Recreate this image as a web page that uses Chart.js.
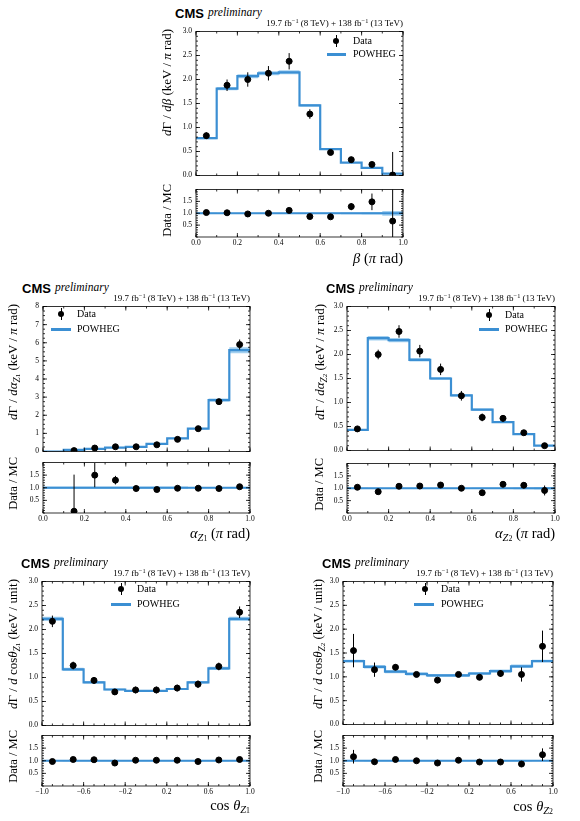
<!DOCTYPE html>
<html>
<head>
<meta charset="utf-8">
<script src="https://cdn.jsdelivr.net/npm/chart.js@4.4.0/dist/chart.umd.min.js"></script>
<style>
  body { margin: 0; background: #fff; }
  #page { position: relative; width: 580px; height: 821px; overflow: hidden; font-family: "Liberation Serif", serif; color: #000; }
  canvas { position: absolute; }
  .t { position: absolute; white-space: nowrap; line-height: 1; }
  .t sub { font-size: 72%; vertical-align: -0.3em; }
  .t sup { font-size: 70%; vertical-align: 0.45em; }
  .t small { font-size: 75%; }
</style>
</head>
<body>
<div id="page"></div>
<script>
// bin edges and tick labels
const binsUnit = [0.0, 0.1, 0.2, 0.3, 0.4, 0.5, 0.6, 0.7, 0.8, 0.9, 1.0];
const binsCos = [-1.0, -0.8, -0.6, -0.4, -0.2, 0.0, 0.2, 0.4, 0.6, 0.8, 1.0];
const xTicksUnit = [0.0, 0.2, 0.4, 0.6, 0.8, 1.0];
const xTicksCos = [-1.0, -0.6, -0.2, 0.2, 0.6, 1.0];
const yTicks3 = [0.0, 0.5, 1.0, 1.5, 2.0, 2.5, 3.0];
const yTicks8 = [0, 1, 2, 3, 4, 5, 6, 7, 8];
const yTicksRatio = [0.5, 1.0, 1.5];

// beta
const mcBeta = [0.78, 1.81, 2.07, 2.13, 2.15, 1.46, 0.55, 0.27, 0.16, 0.04];
const uncBeta = [0.03, 0.02, 0.02, 0.02, 0.02, 0.02, 0.03, 0.04, 0.05, 0.10];
const dataBeta = [0.83, 1.88, 2.00, 2.13, 2.38, 1.28, 0.48, 0.33, 0.23, 0.01];
const errBeta = [0.07, 0.12, 0.15, 0.15, 0.17, 0.10, 0.05, 0.06, 0.05, 0.48];
const ratioBeta = [1.03, 1.02, 0.97, 1.00, 1.12, 0.86, 0.85, 1.28, 1.48, 0.67];
const ratioErrBeta = [0.09, 0.07, 0.07, 0.07, 0.08, 0.07, 0.09, 0.15, 0.35, 1.5];

// alpha Z1
const mcA1 = [0.0, 0.09, 0.14, 0.21, 0.25, 0.42, 0.72, 1.26, 2.84, 5.59];
const uncA1 = [0.05, 0.05, 0.05, 0.05, 0.05, 0.05, 0.05, 0.03, 0.03, 0.03];
const dataA1 = [null, 0.05, 0.19, 0.26, 0.26, 0.37, 0.67, 1.26, 2.75, 5.90];
const errA1 = [null, 0.05, 0.12, 0.06, 0.06, 0.08, 0.08, 0.10, 0.12, 0.28];
const ratioA1 = [null, 0.07, 1.50, 1.30, 0.97, 0.93, 0.98, 0.98, 0.97, 1.04];
const ratioErrA1 = [null, 1.45, 0.48, 0.17, 0.12, 0.08, 0.05, 0.05, 0.05, 0.06];

// alpha Z2
const mcA2 = [0.43, 2.34, 2.30, 1.89, 1.50, 1.15, 0.85, 0.59, 0.34, 0.10];
const uncA2 = [0.03, 0.02, 0.02, 0.02, 0.02, 0.02, 0.03, 0.03, 0.04, 0.05];
const dataA2 = [0.45, 2.00, 2.48, 2.07, 1.69, 1.14, 0.69, 0.67, 0.37, 0.10];
const errA2 = [0.05, 0.10, 0.13, 0.13, 0.12, 0.10, 0.08, 0.07, 0.05, 0.03];
const ratioA2 = [1.04, 0.86, 1.08, 1.09, 1.13, 1.00, 0.82, 1.16, 1.12, 0.91];
const ratioErrA2 = [0.10, 0.05, 0.06, 0.07, 0.07, 0.08, 0.07, 0.10, 0.12, 0.20];

// cos theta Z1
const mcC1 = [2.22, 1.17, 0.90, 0.75, 0.72, 0.72, 0.76, 0.90, 1.19, 2.22];
const uncC1 = [0.02, 0.03, 0.03, 0.03, 0.03, 0.03, 0.03, 0.03, 0.03, 0.02];
const dataC1 = [2.17, 1.25, 0.94, 0.70, 0.74, 0.74, 0.78, 0.86, 1.23, 2.36];
const errC1 = [0.12, 0.08, 0.07, 0.06, 0.07, 0.07, 0.07, 0.08, 0.08, 0.12];
const ratioC1 = [0.97, 1.05, 1.04, 0.91, 1.02, 1.02, 1.02, 0.97, 1.03, 1.05];
const ratioErrC1 = [0.06, 0.07, 0.07, 0.06, 0.07, 0.07, 0.07, 0.08, 0.06, 0.06];

// cos theta Z2
const mcC2 = [1.33, 1.21, 1.11, 1.06, 1.03, 1.03, 1.07, 1.12, 1.22, 1.33];
const uncC2 = [0.02, 0.03, 0.03, 0.03, 0.03, 0.03, 0.03, 0.03, 0.03, 0.02];
const dataC2 = [1.55, 1.15, 1.20, 1.05, 0.93, 1.05, 0.99, 1.07, 1.05, 1.64];
const errC2 = [0.35, 0.15, 0.06, 0.05, 0.05, 0.05, 0.06, 0.07, 0.15, 0.33];
const ratioC2 = [1.16, 0.96, 1.05, 1.00, 0.91, 1.02, 0.95, 0.95, 0.87, 1.24];
const ratioErrC2 = [0.27, 0.10, 0.05, 0.05, 0.04, 0.05, 0.05, 0.07, 0.10, 0.25];

const BLUE = '#3b8fd3';
const BAND = 'rgba(140, 196, 236, 0.8)';
const YW = 30, PT = 6, PR = 10, PB = 4, XH = 14;
const page = document.getElementById('page');

// frame + inward ticks on all four sides
const frame = {
  id: 'frame',
  afterDraw(chart, args, o) {
    const { ctx, chartArea: a, scales: { x, y } } = chart;
    const steps = (min, max, step) => {
      const n = Math.round((max - min) / step);
      return Array.from({ length: n + 1 }, (_, i) => min + i * step);
    };
    ctx.save();
    ctx.strokeStyle = '#000';
    ctx.lineWidth = 0.8;
    ctx.beginPath();
    const marks = (scale, vals, len, isX) => {
      vals.forEach(v => {
        const p = scale.getPixelForValue(v);
        if (isX) {
          ctx.moveTo(p, a.bottom); ctx.lineTo(p, a.bottom - len);
          ctx.moveTo(p, a.top); ctx.lineTo(p, a.top + len);
        } else {
          ctx.moveTo(a.left, p); ctx.lineTo(a.left + len, p);
          ctx.moveTo(a.right, p); ctx.lineTo(a.right - len, p);
        }
      });
    };
    marks(x, o.xMajor, 4, true);
    marks(x, steps(x.min, x.max, o.xMinor), 2, true);
    marks(y, o.yMajor, 4, false);
    marks(y, steps(y.min, y.max, o.yMinor), 2, false);
    ctx.stroke();
    ctx.strokeRect(a.left, a.top, a.right - a.left, a.bottom - a.top);
    ctx.restore();
  }
};

function fmt(v, dec) {
  return v.toFixed(dec).replace('-', '\u2212');
}

function stepPts(edges, vals) {
  const pts = vals.map((v, i) => ({ x: edges[i], y: v }));
  pts.push({ x: edges[edges.length - 1], y: vals[vals.length - 1] });
  return pts;
}

function histSets(edges, vals, unc, centers, pts, errs) {
  const lo = vals.map((v, i) => v * (1 - unc[i]));
  const hi = vals.map((v, i) => v * (1 + unc[i]));
  const bars = [];
  pts.forEach((v, i) => {
    if (v == null) return;
    bars.push({ x: centers[i], y: v - errs[i] }, { x: centers[i], y: v + errs[i] }, { x: centers[i], y: null });
  });
  const line = { showLine: true, pointRadius: 0, borderWidth: 0 };
  return [
    { data: centers.map((c, i) => ({ x: c, y: pts[i] })).filter(d => d.y != null),
      pointRadius: 3, pointBackgroundColor: '#000', pointBorderColor: '#000', showLine: false, order: 0 },
    { ...line, data: bars, borderColor: '#000', borderWidth: 1, spanGaps: false, order: 1 },
    { ...line, data: stepPts(edges, vals), stepped: true, borderColor: BLUE, borderWidth: 2.2, order: 2 },
    { ...line, data: stepPts(edges, lo), stepped: true, borderColor: 'rgba(0,0,0,0)', order: 4 },
    { ...line, data: stepPts(edges, hi), stepped: true, borderColor: 'rgba(0,0,0,0)', fill: '-1', backgroundColor: BAND, order: 3 }
  ];
}

function makeChart(L, R, T, B, showX, xr, xt, yr, yt, yMinor, dec, datasets) {
  const c = document.createElement('canvas');
  const w = R - L + YW + PR, h = B - T + PT + (showX ? XH : PB);
  c.width = w; c.height = h;
  c.style.left = (L - YW) + 'px'; c.style.top = (T - PT) + 'px';
  c.style.width = w + 'px'; c.style.height = h + 'px';
  page.appendChild(c);
  const font = { family: '"Liberation Serif", serif', size: 7.5 };
  new Chart(c, {
    type: 'scatter',
    data: { datasets },
    options: {
      responsive: false,
      animation: false,
      events: [],
      layout: { padding: { left: 0, top: PT, right: PR, bottom: showX ? 0 : PB } },
      plugins: {
        legend: { display: false },
        tooltip: { enabled: false },
        frame: { xMajor: xt, xMinor: 0.1, yMajor: yt, yMinor }
      },
      scales: {
        x: {
          type: 'linear', min: xr[0], max: xr[1], display: showX,
          afterBuildTicks: s => { s.ticks = xt.map(v => ({ value: v })); },
          afterFit: s => { s.height = showX ? XH : 0; },
          grid: { display: false, drawTicks: false }, border: { display: false },
          ticks: { autoSkip: false, maxRotation: 0, padding: 2, color: '#000', font, callback: v => fmt(v, 1) }
        },
        y: {
          type: 'linear', min: yr[0], max: yr[1],
          afterBuildTicks: s => { s.ticks = yt.map(v => ({ value: v })); },
          afterFit: s => { s.width = YW; },
          grid: { display: false, drawTicks: false }, border: { display: false },
          ticks: { autoSkip: false, padding: 4, color: '#000', font, callback: v => fmt(v, dec) }
        }
      }
    },
    plugins: [frame]
  });
}

function text(html, x, y, css, anchor) {
  const d = document.createElement('div');
  d.className = 't';
  d.innerHTML = html;
  d.style.cssText += css;
  d.style.left = x + 'px';
  d.style.top = y + 'px';
  if (anchor === 'l') d.style.transform = 'translate(0, -50%)';
  if (anchor === 'r') d.style.transform = 'translate(-100%, -50%)';
  if (anchor === 'v') { d.style.transformOrigin = '0 0'; d.style.transform = 'rotate(-90deg) translate(-100%, -50%)'; }
  page.appendChild(d);
}

function panel(p) {
  const e = p.edges;
  const centers = e.slice(0, -1).map((v, i) => (v + e[i + 1]) / 2);
  const xr = [e[0], e[e.length - 1]];
  makeChart(p.L, p.R, p.T, p.B, false, xr, p.xTicks, [0, p.yMax], p.yTicks, p.yMinor, p.dec,
    histSets(e, p.mc, p.unc, centers, p.data, p.err));
  const ones = p.mc.map(() => 1);
  makeChart(p.L, p.R, p.RT, p.RB, true, xr, p.xTicks, [0, 2], yTicksRatio, 0.1, 1,
    histSets(e, ones, p.unc, centers, p.ratio, p.rerr));

  text('CMS', p.L - 21, p.T - 16, 'font-family:"Liberation Sans",sans-serif;font-weight:bold;font-size:13px;', 'l');
  text('<i>preliminary</i>', p.L + 12, p.T - 16, 'font-size:11.5px;', 'l');
  text('19.7 fb<sup>\u22121</sup> (8 TeV) + 138 fb<sup>\u22121</sup> (13 TeV)', p.R, p.T - 6, 'font-size:9px;', 'r');
  text(p.yLabel, p.yl, p.T, 'font-size:13px;', 'v');
  text('Data / MC', p.rl, p.RT - 3, 'font-size:12.5px;', 'v');
  text(p.xLabel, p.R, p.xy, 'font-size:14.5px;', 'r');

  // legend
  const g = p.leg;
  const dot = document.createElement('div');
  dot.style.cssText = `position:absolute;left:${g.mx - 3}px;top:${g.my - 3}px;width:6px;height:6px;border-radius:3px;background:#000;`;
  page.appendChild(dot);
  const bar = document.createElement('div');
  bar.style.cssText = `position:absolute;left:${g.mx - 0.5}px;top:${g.my - 6}px;width:1px;height:12px;background:#000;`;
  page.appendChild(bar);
  const ln = document.createElement('div');
  ln.style.cssText = `position:absolute;left:${g.l1}px;top:${g.ly - 1.5}px;width:${g.l2 - g.l1}px;height:3px;background:${BLUE};`;
  page.appendChild(ln);
  text('Data', g.tx, g.my, 'font-size:10px;', 'l');
  text('POWHEG', g.tx, g.ly, 'font-size:10px;', 'l');
}

const sub = n => `<sub><i>Z</i><small>${n}</small></sub>`;

panel({ edges: binsUnit, xTicks: xTicksUnit, yTicks: yTicks3, yMax: 3, yMinor: 0.1, dec: 1,
  mc: mcBeta, unc: uncBeta, data: dataBeta, err: errBeta, ratio: ratioBeta, rerr: ratioErrBeta,
  L: 196, R: 403, T: 29, B: 180, RT: 187, RB: 237, yl: 166, rl: 167, xy: 258,
  yLabel: '<i>d</i>Γ / <i>dβ</i> (keV / <i>π</i> rad)', xLabel: '<i>β</i> (<i>π</i> rad)',
  leg: { mx: 336, my: 41, tx: 353, ly: 54, l1: 327, l2: 346 } });

panel({ edges: binsUnit, xTicks: xTicksUnit, yTicks: yTicks8, yMax: 8, yMinor: 0.25, dec: 0,
  mc: mcA1, unc: uncA1, data: dataA1, err: errA1, ratio: ratioA1, rerr: ratioErrA1,
  L: 43, R: 250, T: 304, B: 456, RT: 460, RB: 513, yl: 14, rl: 13, xy: 535,
  yLabel: '<i>d</i>Γ / <i>dα</i>' + sub(1) + ' (keV / <i>π</i> rad)', xLabel: '<i>α</i>' + sub(1) + ' (<i>π</i> rad)',
  leg: { mx: 61, my: 314, tx: 77, ly: 329, l1: 51, l2: 71 } });

panel({ edges: binsUnit, xTicks: xTicksUnit, yTicks: yTicks3, yMax: 3, yMinor: 0.1, dec: 1,
  mc: mcA2, unc: uncA2, data: dataA2, err: errA2, ratio: ratioA2, rerr: ratioErrA2,
  L: 347, R: 555, T: 304, B: 455, RT: 461, RB: 513, yl: 321, rl: 319, xy: 535,
  yLabel: '<i>d</i>Γ / <i>dα</i>' + sub(2) + ' (keV / <i>π</i> rad)', xLabel: '<i>α</i>' + sub(2) + ' (<i>π</i> rad)',
  leg: { mx: 489, my: 315, tx: 505, ly: 329, l1: 479, l2: 499 } });

panel({ edges: binsCos, xTicks: xTicksCos, yTicks: yTicks3, yMax: 3, yMinor: 0.1, dec: 1,
  mc: mcC1, unc: uncC1, data: dataC1, err: errC1, ratio: ratioC1, rerr: ratioErrC1,
  L: 42, R: 250, T: 579, B: 730, RT: 733, RB: 786, yl: 14, rl: 13, xy: 807,
  yLabel: '<i>d</i>Γ / <i>d</i> cos<i>θ</i>' + sub(1) + ' (keV / unit)', xLabel: 'cos <i>θ</i>' + sub(1),
  leg: { mx: 121, my: 589, tx: 137, ly: 604, l1: 111, l2: 131 } });

panel({ edges: binsCos, xTicks: xTicksCos, yTicks: yTicks3, yMax: 3, yMinor: 0.1, dec: 1,
  mc: mcC2, unc: uncC2, data: dataC2, err: errC2, ratio: ratioC2, rerr: ratioErrC2,
  L: 343, R: 553, T: 579, B: 729, RT: 733, RB: 786, yl: 319, rl: 318, xy: 808,
  yLabel: '<i>d</i>Γ / <i>d</i> cos<i>θ</i>' + sub(2) + ' (keV / unit)', xLabel: 'cos <i>θ</i>' + sub(2),
  leg: { mx: 425, my: 589, tx: 441, ly: 604, l1: 414, l2: 434 } });
</script>
</body>
</html>
